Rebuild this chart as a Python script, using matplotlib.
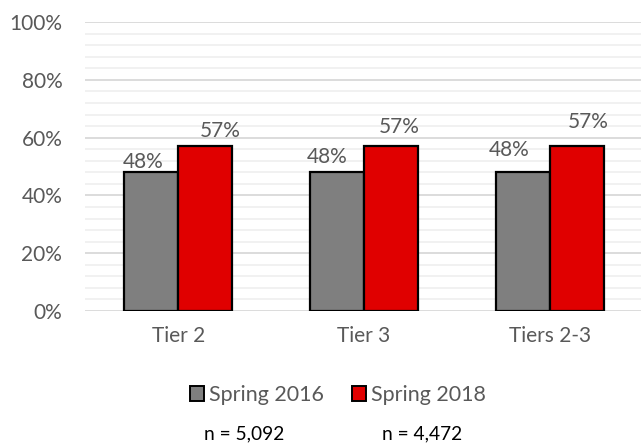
import numpy as np
import matplotlib
matplotlib.use("Agg")
import matplotlib.pyplot as plt
from matplotlib.patches import Patch

plt.rcParams["font.family"] = ["Lato", "DejaVu Sans"]

categories = ["Tier 2", "Tier 3", "Tiers 2-3"]
spring_2016 = [0.48, 0.48, 0.48]
spring_2018 = [0.57, 0.57, 0.57]
series_names = ["Spring 2016", "Spring 2018"]
sample_sizes = ["n = 5,092", "n = 4,472"]

GRAY = "#7f7f7f"
RED = "#e00000"
TEXT = "#595959"

# value-label nudges (points) so labels sit clear of the neighbouring bar
label_nudge_2016 = [(-6, 3), (-7, 7), (-10, 11.5)]
label_nudge_2018 = [(11, 7), (6, 9.5), (8, 13.5)]

fig = plt.figure(figsize=(6.41, 4.43), dpi=100)
ax = fig.add_axes([0.133, 0.298, 0.87, 0.652])

x = np.arange(len(categories))
w = 0.29
for vals, off, col, nudges in [(spring_2016, -w / 2, GRAY, label_nudge_2016),
                               (spring_2018, w / 2, RED, label_nudge_2018)]:
    bars = ax.bar(x + off, vals, width=w, color=col, edgecolor="black", linewidth=1.6, zorder=3)
    for b, v, nd in zip(bars, vals, nudges):
        ax.annotate(f"{v:.0%}", (b.get_x() + b.get_width() / 2, v), xytext=nd,
                    textcoords="offset points", ha="center", va="baseline",
                    fontsize=15, color=TEXT)

ax.set_ylim(0, 1)
ax.set_xlim(-0.5, 2.5)
ax.set_yticks(np.arange(0, 1.01, 0.2))
ax.set_yticklabels([f"{t:.0%}" for t in np.arange(0, 1.01, 0.2)])
ax.set_yticks(np.arange(0, 1.001, 0.04), minor=True)
ax.grid(axis="y", which="major", color="#d9d9d9", linewidth=1.3, zorder=0)
ax.grid(axis="y", which="minor", color="#f0f0f0", linewidth=1.3, zorder=0)
ax.set_xticks(x)
ax.set_xticklabels(categories)
ax.tick_params(axis="both", which="both", length=0, labelsize=15, labelcolor=TEXT)
ax.tick_params(axis="y", pad=16.5)
ax.tick_params(axis="x", pad=11)
for s in ax.spines.values():
    s.set_visible(False)

handles = [Patch(facecolor=GRAY, edgecolor="black", linewidth=1.4),
           Patch(facecolor=RED, edgecolor="black", linewidth=1.4)]
leg = fig.legend(handles, series_names, loc="center", bbox_to_anchor=(0.527, 0.108),
                 ncol=2, frameon=False, fontsize=15.5, handlelength=0.65, handleheight=0.65,
                 handletextpad=0.23, columnspacing=1.3)
for t in leg.get_texts():
    t.set_color(TEXT)

fig.text(0.381, 0.021, sample_sizes[0], ha="center", va="center", fontsize=13.8, color="black")
fig.text(0.659, 0.021, sample_sizes[1], ha="center", va="center", fontsize=13.8, color="black")

fig.savefig("out.png", dpi=100)
